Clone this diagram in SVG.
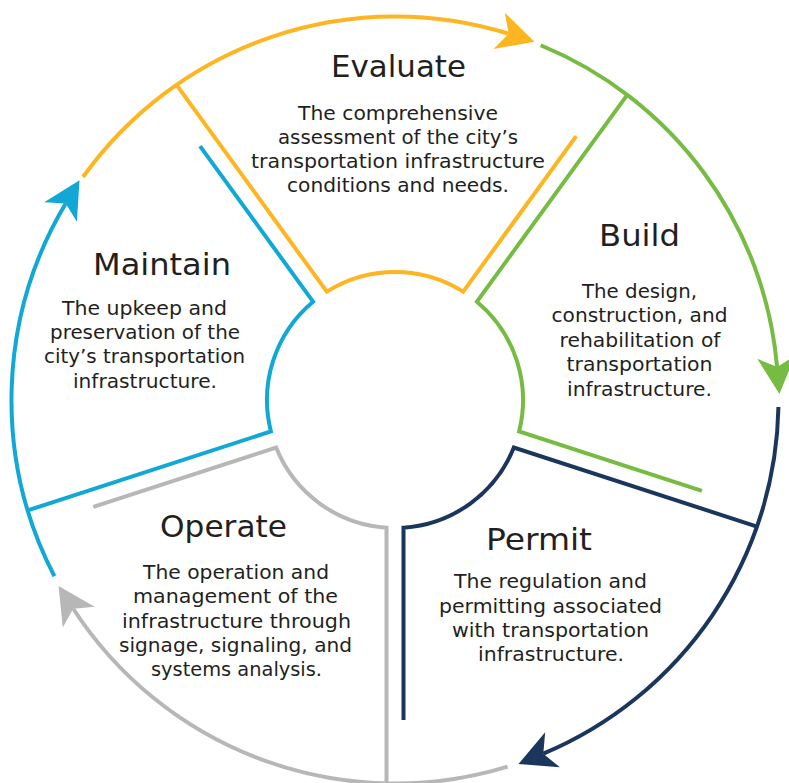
<svg xmlns="http://www.w3.org/2000/svg" width="789" height="783" viewBox="0 0 789 783">
<style>
.seg{fill:none;stroke-width:4;stroke-linejoin:miter}
.arc{fill:none;stroke-width:4}
.title{font-family:"DejaVu Sans","Liberation Sans",sans-serif;font-size:31px;fill:#231f20;text-anchor:middle}
.body{font-family:"DejaVu Sans","Liberation Sans",sans-serif;font-size:19.5px;fill:#231f20;text-anchor:middle}
.c-or{stroke:#FDB521}
.c-gr{stroke:#76BC43}
.c-nv{stroke:#1B365D}
.c-gy{stroke:#B7B7B7}
.c-bl{stroke:#11A8D6}
</style>
<defs>
<marker id="ah-or" markerUnits="userSpaceOnUse" markerWidth="40" markerHeight="40" refX="0" refY="0" orient="auto" overflow="visible"><path d="M27,0 L-10,-19 L0,0 L-10,19 Z" fill="#FDB521"/></marker>
<marker id="ah-gr" markerUnits="userSpaceOnUse" markerWidth="40" markerHeight="40" refX="0" refY="0" orient="auto" overflow="visible"><path d="M27,0 L-10,-19 L0,0 L-10,19 Z" fill="#76BC43"/></marker>
<marker id="ah-nv" markerUnits="userSpaceOnUse" markerWidth="40" markerHeight="40" refX="0" refY="0" orient="auto" overflow="visible"><path d="M27,0 L-10,-19 L0,0 L-10,19 Z" fill="#1B365D"/></marker>
<marker id="ah-gy" markerUnits="userSpaceOnUse" markerWidth="40" markerHeight="40" refX="0" refY="0" orient="auto" overflow="visible"><path d="M27,0 L-10,-19 L0,0 L-10,19 Z" fill="#B7B7B7"/></marker>
<marker id="ah-bl" markerUnits="userSpaceOnUse" markerWidth="40" markerHeight="40" refX="0" refY="0" orient="auto" overflow="visible"><path d="M27,0 L-10,-19 L0,0 L-10,19 Z" fill="#11A8D6"/></marker>
</defs>
<rect x="0" y="0" width="789" height="783" fill="#ffffff"/>

<g id="evaluate">
<path class="seg c-or" d="M176.52,84.82 L326.81,291.67 A128,128 0 0 1 463.19,291.67 L576.21,136.11"/>
<text class="title" x="398.5" y="77" textLength="135" lengthAdjust="spacingAndGlyphs">Evaluate</text>
<text class="body" x="398" y="120" textLength="200" lengthAdjust="spacingAndGlyphs">The comprehensive</text>
<text class="body" x="398" y="144" textLength="240" lengthAdjust="spacingAndGlyphs">assessment of the city’s</text>
<text class="body" x="398" y="168" textLength="294" lengthAdjust="spacingAndGlyphs">transportation infrastructure</text>
<text class="body" x="398" y="192" textLength="222" lengthAdjust="spacingAndGlyphs">conditions and needs.</text>
</g>

<g id="build">
<path class="seg c-gr" d="M627.24,94.82 L476.95,301.67 A128,128 0 0 1 519.10,431.39 L701.97,490.81"/>
<text class="title" x="639.5" y="246" textLength="81" lengthAdjust="spacingAndGlyphs">Build</text>
<text class="body" x="639.5" y="298" textLength="115" lengthAdjust="spacingAndGlyphs">The design,</text>
<text class="body" x="639.5" y="322" textLength="176" lengthAdjust="spacingAndGlyphs">construction, and</text>
<text class="body" x="640" y="347" textLength="161" lengthAdjust="spacingAndGlyphs">rehabilitation of</text>
<text class="body" x="639.5" y="371" textLength="146" lengthAdjust="spacingAndGlyphs">transportation</text>
<text class="body" x="639.5" y="396" textLength="145" lengthAdjust="spacingAndGlyphs">infrastructure.</text>
</g>

<g id="permit">
<path class="seg c-nv" d="M757.01,526.56 L513.84,447.55 A128,128 0 0 1 403.5,527.72 L403.5,720"/>
<text class="title" x="539" y="550" textLength="106" lengthAdjust="spacingAndGlyphs">Permit</text>
<text class="body" x="550.5" y="588" textLength="193" lengthAdjust="spacingAndGlyphs">The regulation and</text>
<text class="body" x="550.5" y="613" textLength="223" lengthAdjust="spacingAndGlyphs">permitting associated</text>
<text class="body" x="550.5" y="637" textLength="197" lengthAdjust="spacingAndGlyphs">with transportation</text>
<text class="body" x="551" y="661" textLength="146" lengthAdjust="spacingAndGlyphs">infrastructure.</text>
</g>

<g id="operate">
<path class="seg c-gy" d="M386.5,785 L386.5,527.72 A128,128 0 0 1 276.16,447.55 L93.29,506.97"/>
<text class="title" x="223.5" y="537" textLength="127" lengthAdjust="spacingAndGlyphs">Operate</text>
<text class="body" x="236" y="579" textLength="186" lengthAdjust="spacingAndGlyphs">The operation and</text>
<text class="body" x="235.5" y="603" textLength="205" lengthAdjust="spacingAndGlyphs">management of the</text>
<text class="body" x="236.5" y="628" textLength="229" lengthAdjust="spacingAndGlyphs">infrastructure through</text>
<text class="body" x="235.5" y="652" textLength="233" lengthAdjust="spacingAndGlyphs">signage, signaling, and</text>
<text class="body" x="236.5" y="676" textLength="171" lengthAdjust="spacingAndGlyphs">systems analysis.</text>
</g>

<g id="maintain">
<path class="seg c-bl" d="M27.73,510.40 L270.90,431.39 A128,128 0 0 1 313.05,301.67 L200.03,146.11"/>
<text class="title" x="162" y="275" textLength="138" lengthAdjust="spacingAndGlyphs">Maintain</text>
<text class="body" x="144.5" y="315" textLength="165" lengthAdjust="spacingAndGlyphs">The upkeep and</text>
<text class="body" x="145" y="339" textLength="190" lengthAdjust="spacingAndGlyphs">preservation of the</text>
<text class="body" x="144.5" y="363" textLength="201" lengthAdjust="spacingAndGlyphs">city’s transportation</text>
<text class="body" x="145" y="388" textLength="144" lengthAdjust="spacingAndGlyphs">infrastructure.</text>
</g>

<g id="connectors">
<path class="arc c-or" marker-end="url(#ah-or)" d="M83.01,176.98 A383.5,383.5 0 0 1 508.72,33.75"/>
<path class="arc c-gr" marker-end="url(#ah-gr)" d="M540.70,45.25 A383.5,383.5 0 0 1 777.08,367.04"/>
<path class="arc c-nv" marker-end="url(#ah-nv)" d="M778.44,407.03 A383.5,383.5 0 0 1 543.30,753.66"/>
<path class="arc c-gy" marker-end="url(#ah-gy)" d="M507.58,766.60 A383.5,383.5 0 0 1 73.27,608.72"/>
<path class="arc c-bl" marker-end="url(#ah-bl)" d="M54.38,576.24 A383.5,383.5 0 0 1 65.68,203.48"/>
</g>
</svg>
